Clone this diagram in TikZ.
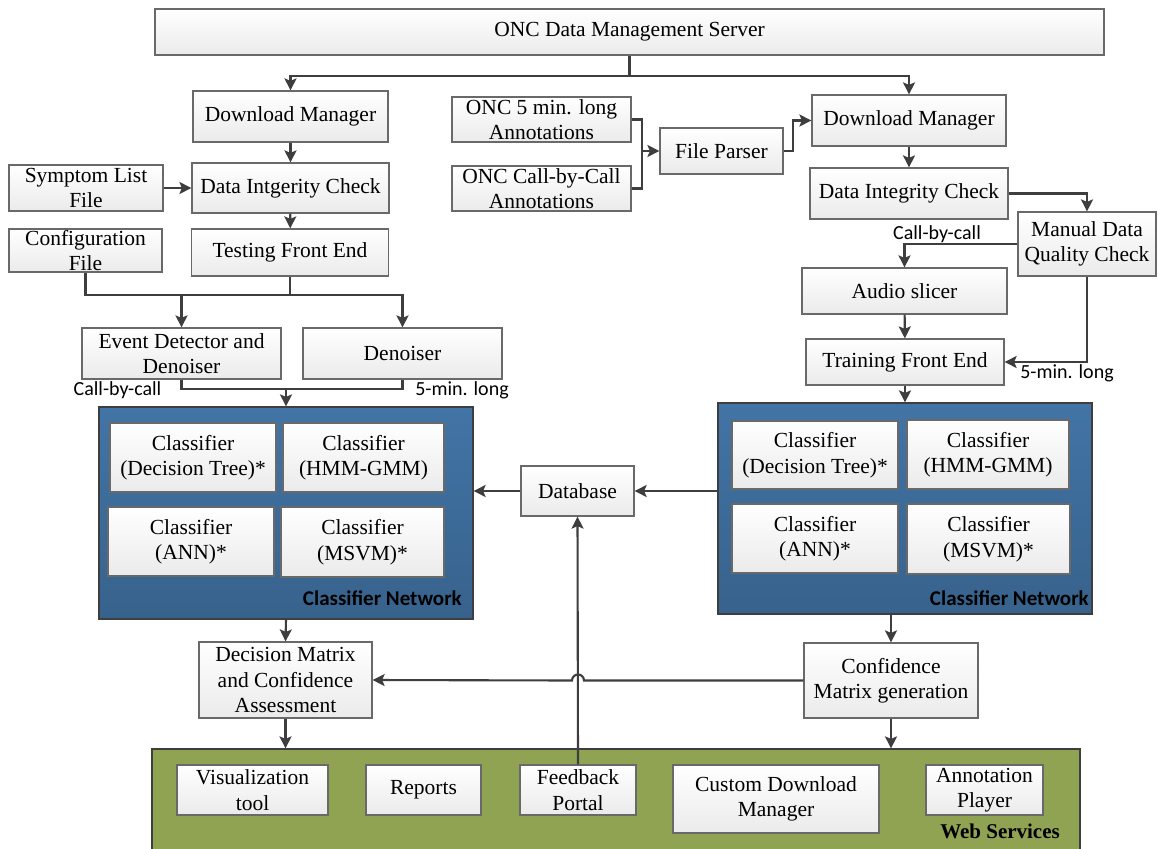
\documentclass[tikz,border=0pt]{standalone}
\usepackage{fontspec}
\setmainfont{Liberation Serif}
\newfontfamily\lblfont{Carlito}
\usetikzlibrary{arrows.meta}

\definecolor{linecol}{RGB}{62,62,62}
\definecolor{boxedge}{RGB}{105,105,105}
\definecolor{nettop}{RGB}{66,116,166}
\definecolor{netbot}{RGB}{55,98,140}
\definecolor{webgreen}{RGB}{143,163,82}

\tikzset{
  box/.style={draw=boxedge, line width=1.2pt, top color=white, bottom color=black!8,
    align=center, inner sep=0pt, font=\fontsize{21.5}{25.5}\selectfont},
  netbox/.style={draw=linecol, line width=1.2pt, top color=nettop, bottom color=netbot, inner sep=0pt},
  webbox/.style={draw=linecol, line width=1.2pt, fill=webgreen, inner sep=0pt},
  conn/.style={draw=linecol, line width=2.1pt},
  arr/.style={conn, -{Stealth[length=12pt,width=12pt,inset=2.5pt]}},
  lbl/.style={font=\lblfont\fontsize{20}{22}\selectfont, inner sep=0pt},
  netlbl/.style={font=\lblfont\bfseries\fontsize{21}{24}\selectfont, inner sep=0pt, anchor=east},
}

\begin{document}
\begin{tikzpicture}[x=1pt, y=-1pt]
\useasboundingbox (0,0) rectangle (1158,848);
\fill[white] (0,0) rectangle (1158,848);

% server
\node[box, minimum width=949, minimum height=46] (server) at (629.5,32) {ONC Data Management Server};

% testing branch
\node[box, minimum width=195, minimum height=51] (dmL) at (290.5,116.5) {Download Manager};
\node[box, minimum width=197, minimum height=50] (dicL) at (290.5,188) {Data Intgerity Check};
\node[box, minimum width=154, minimum height=46] (sym) at (86,188) {Symptom List\\File};
\node[box, minimum width=153, minimum height=43] (cfg) at (85.5,250.5) {Configuration\\File};
\node[box, minimum width=197, minimum height=47] (tfeL) at (290,252.5) {Testing Front End};
\node[box, minimum width=199, minimum height=51] (edd) at (181.5,353.5) {Event Detector and\\Denoiser};
\node[box, minimum width=199, minimum height=51] (den) at (402.5,353.5) {Denoiser};

% annotation inputs
\node[box, minimum width=179, minimum height=45] (ann5) at (541.5,119.5) {ONC 5 min. long\\Annotations};
\node[box, minimum width=179, minimum height=45] (annC) at (541.5,188.5) {ONC Call-by-Call\\Annotations};
\node[box, minimum width=123, minimum height=46] (fp) at (721.5,151) {File Parser};

% training branch
\node[box, minimum width=194, minimum height=51] (dmR) at (909,120.5) {Download Manager};
\node[box, minimum width=198, minimum height=51] (dicR) at (909,193.5) {Data Integrity Check};
\node[box, minimum width=138, minimum height=64] (mdqc) at (1087,244) {Manual Data\\Quality Check};
\node[box, minimum width=205, minimum height=46] (slicer) at (904.5,291) {Audio slicer};
\node[box, minimum width=198, minimum height=46] (tfeR) at (905,362) {Training Front End};

% classifier networks
\node[netbox, minimum width=374, minimum height=212] (netL) at (286,513) {};
\node[netbox, minimum width=374, minimum height=211] (netR) at (905,508.5) {};

\node[box, minimum width=166, minimum height=69] (dtL) at (193,457.5) {Classifier\\(Decision Tree)*};
\node[box, minimum width=161, minimum height=69] (hmmL) at (363.5,457.5) {Classifier\\(HMM-GMM)};
\node[box, minimum width=166, minimum height=69] (annL) at (191,541.5) {Classifier\\(ANN)*};
\node[box, minimum width=163, minimum height=70] (msvmL) at (362.5,542) {Classifier\\(MSVM)*};
\node[netlbl] (netLlbl) at (462,598) {Classifier Network};

\node[box, minimum width=166, minimum height=68] (dtR) at (815,455) {Classifier\\(Decision Tree)*};
\node[box, minimum width=162, minimum height=69] (hmmR) at (988,454.5) {Classifier\\(HMM-GMM)};
\node[box, minimum width=166, minimum height=69] (annR) at (815,538.5) {Classifier\\(ANN)*};
\node[box, minimum width=163, minimum height=70] (msvmR) at (988.5,539) {Classifier\\(MSVM)*};
\node[netlbl] (netRlbl) at (1089,598) {Classifier Network};

\node[box, minimum width=113, minimum height=50] (db) at (577.5,491) {Database};

% decision stage
\node[box, minimum width=173, minimum height=76] (dmat) at (285.5,680) {Decision Matrix\\and Confidence\\Assessment};
\node[box, minimum width=174, minimum height=75] (cmg) at (891,680.5) {Confidence\\Matrix generation};

% web services
\node[webbox, minimum width=928, minimum height=130] (web) at (616,814) {};
\node[box, minimum width=151, minimum height=50] (vis) at (252.5,790) {Visualization\\tool};
\node[box, minimum width=115, minimum height=50] (rep) at (423.5,790) {Reports};
\node[box, minimum width=116, minimum height=50] (fb) at (578,790) {Feedback\\Portal};
\node[box, minimum width=206, minimum height=68] (cdm) at (776,799) {Custom Download\\Manager};
\node[box, minimum width=117, minimum height=50] (ap) at (984.5,790) {Annotation\\Player};
\node[font=\bfseries\fontsize{21}{24}\selectfont, inner sep=0pt, anchor=east] (weblbl) at (1060,831) {Web Services};

% path labels
\node[lbl] (cbcL) at (117.5,390) {Call-by-call};
\node[lbl] (fmlL) at (462,390) {5-min. long};
\node[lbl] (cbcR) at (937,234) {Call-by-call};
\node[lbl] (fmlR) at (1067,373) {5-min. long};

% connectors: server to download managers
\draw[conn] (server.south) -- ++(0,20) coordinate (s1);
\draw[arr] (s1) -| (dmL.north);
\draw[arr] (s1) -| (dmR.north);

% testing chain
\draw[arr] (dmL) -- (dicL);
\draw[arr] (sym) -- (dicL);
\draw[arr] (dicL) -- (tfeL);
\coordinate (jL) at (290,295);
\draw[conn] (cfg.south) |- (jL);
\draw[conn] (tfeL.south) -- (jL);
\draw[arr] (jL) -| (edd.north);
\draw[arr] (jL) -| (den.north);
\draw[conn] (edd.south) -- ++(0,9) -| (den.south);
\coordinate (jB) at (286,388);
\draw[arr] (jB) -- (netL.north);

% annotation parsing
\draw[conn] (ann5.east) -- ++(10,0) coordinate (b1) -- (b1 |- annC.east) -- (annC.east);
\draw[arr] (b1 |- fp.west) -- (fp.west);
\draw[arr] (fp.east) -- ++(9,0) |- (dmR.west);

% training chain
\draw[arr] (dmR) -- (dicR);
\draw[arr] (dicR.east) -| (mdqc.north);
\draw[arr] (mdqc.west) -| (slicer.north);
\draw[arr] (slicer) -- (tfeR);
\draw[arr] (mdqc.south) |- (tfeR.east);
\draw[arr] (tfeR.south) -- (netR.north);

% database
\draw[arr] (netR.west |- db.east) -- (db.east);
\draw[arr] (db.west) -- (netL.east |- db.west);
\draw[arr] (fb.north) -- (db.south);

% decision stage
\draw[arr] (netL.south) -- (dmat.north);
\draw[arr] (cmg.north |- netR.south) -- (cmg.north);
\draw[arr] (cmg.west) -- (584,680.5) arc[start angle=0, end angle=-180, radius=6] -- (dmat.east);
\draw[arr] (dmat.south) -- (dmat.south |- web.north);
\draw[arr] (cmg.south) -- (cmg.south |- web.north);
\end{tikzpicture}
\end{document}
